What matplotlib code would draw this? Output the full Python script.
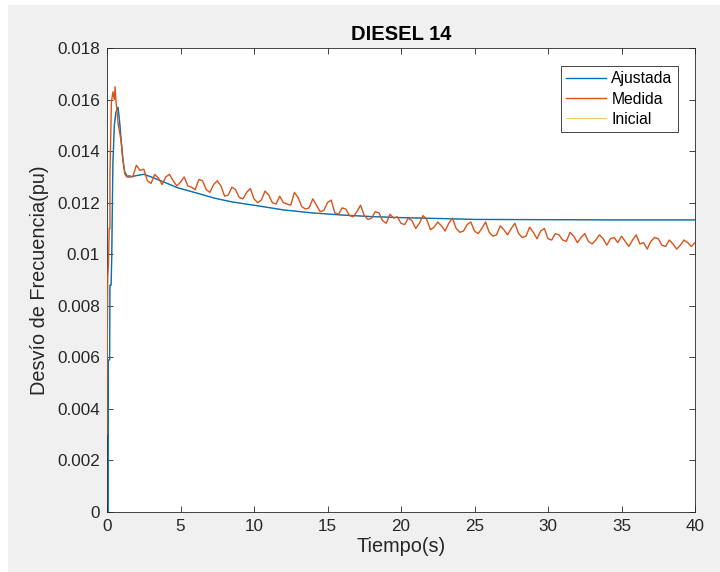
import numpy as np
import matplotlib
matplotlib.use("Agg")
import matplotlib.pyplot as plt
from matplotlib.patches import Rectangle

# Ajustada (curva ajustada)
t_aj = [0, 0.08, 0.09, 0.18, 0.2, 0.28, 0.32, 0.4, 0.5, 0.6, 0.75, 0.85, 0.95, 1.05, 1.2,
        1.4, 1.6, 2.0, 2.5, 3.0, 3.7, 4.8, 6.0, 7.35, 8.5, 10, 12, 14, 16, 18, 20, 23, 25, 30, 35, 40]
y_aj = [0, 0, 0.0059, 0.0059, 0.0088, 0.0088, 0.0098, 0.0135, 0.0150, 0.0155, 0.0157, 0.0152,
        0.0145, 0.0138, 0.0132, 0.0130, 0.01300, 0.01305, 0.01310, 0.01300, 0.01284, 0.01258,
        0.01239, 0.01217, 0.01203, 0.01190, 0.01172, 0.01160, 0.01152, 0.01146, 0.01142,
        0.01138, 0.01135, 0.01134, 0.01133, 0.01133]

# Medida: subida inicial
t_med_ini = [0, 0.0, 0.05, 0.1, 0.15, 0.2, 0.2, 0.3, 0.4, 0.5, 0.55, 0.6, 0.77, 0.9, 1.0, 1.1, 1.22, 1.35]
y_med_ini = [0.0030, 0.0047, 0.0091, 0.0096, 0.0110, 0.0110, 0.0131, 0.0159, 0.0163, 0.0160,
             0.0165, 0.0160, 0.0150, 0.0146, 0.0142, 0.0136, 0.0131, 0.0130]

# Medida: resto (cada 0.25 s desde 1.5 s)
y_med = [
    0.01305, 0.01300, 0.01345, 0.01325, 0.01330, 0.01285, 0.01275, 0.01310, 0.01295, 0.01270,
    0.01300, 0.01310, 0.01285, 0.01265, 0.01280, 0.01300, 0.01265, 0.01260, 0.01250, 0.01290,
    0.01285, 0.01250, 0.01240, 0.01270, 0.01285, 0.01265, 0.01225, 0.01230, 0.01260, 0.01250,
    0.01220, 0.01215, 0.01240, 0.01255, 0.01215, 0.01200, 0.01210, 0.01245, 0.01230, 0.01200,
    0.01195, 0.01225, 0.01200, 0.01195, 0.01190, 0.01240, 0.01220, 0.01185, 0.01175, 0.01180,
    0.01215, 0.01190, 0.01165, 0.01170, 0.01200, 0.01210, 0.01160, 0.01155, 0.01180, 0.01175,
    0.01150, 0.01145, 0.01165, 0.01190, 0.01150, 0.01135, 0.01140, 0.01165, 0.01160, 0.01130,
    0.01120, 0.01155, 0.01140, 0.01145, 0.01120, 0.01115, 0.01140, 0.01130, 0.01100, 0.01120,
    0.01150, 0.01135, 0.01095, 0.01105, 0.01125, 0.01110, 0.01090, 0.01120, 0.01140, 0.01100,
    0.01085, 0.01090, 0.01115, 0.01125, 0.01090, 0.01080, 0.01100, 0.01125, 0.01085, 0.01070,
    0.01075, 0.01110, 0.01095, 0.01075, 0.01100, 0.01120, 0.01080, 0.01065, 0.01070, 0.01105,
    0.01085, 0.01060, 0.01090, 0.01100, 0.01060, 0.01055, 0.01080, 0.01075, 0.01055, 0.01050,
    0.01085, 0.01070, 0.01045, 0.01065, 0.01080, 0.01050, 0.01040, 0.01055, 0.01075, 0.01060,
    0.01035, 0.01060, 0.01065, 0.01045, 0.01070, 0.01050, 0.01030, 0.01055, 0.01075, 0.01040,
    0.01045, 0.01020, 0.01050, 0.01065, 0.01060, 0.01035, 0.01030, 0.01055, 0.01040, 0.01020,
    0.01035, 0.01055, 0.01045, 0.01030, 0.01045,
]
t_med = list(t_med_ini) + list(1.5 + 0.25 * np.arange(len(y_med)))
y_med_all = list(y_med_ini) + y_med

xticks = [0, 5, 10, 15, 20, 25, 30, 35, 40]
yticks = [0, 0.002, 0.004, 0.006, 0.008, 0.01, 0.012, 0.014, 0.016, 0.018]
ytick_labels = ['0', '0.002', '0.004', '0.006', '0.008', '0.01', '0.012', '0.014', '0.016', '0.018']

plt.rcParams['font.family'] = ['Liberation Sans', 'DejaVu Sans']

fig = plt.figure(figsize=(7.2, 5.72), dpi=100, facecolor='#f0f0f0')
# bordes blancos de la captura
fig.patches.append(Rectangle((0, 1 - 5 / 572), 1, 5 / 572, transform=fig.transFigure,
                             facecolor='white', edgecolor='none', zorder=0))
fig.patches.append(Rectangle((0, 0), 8 / 720, 1, transform=fig.transFigure,
                             facecolor='white', edgecolor='none', zorder=0))

ax = fig.add_axes([107 / 720, 60 / 572, 588 / 720, 464 / 572])

l_ini, = ax.plot(t_aj, y_aj, color='#EDB120', lw=0.5, zorder=1)
l_aj, = ax.plot(t_aj, y_aj, color='#0072BD', lw=1.0, zorder=2)
l_med, = ax.plot(t_med, y_med_all, color='#D95319', lw=1.0, zorder=3)

ax.set_xlim(0, 40)
ax.set_ylim(0, 0.018)
ax.set_xticks(xticks)
ax.set_xticklabels([str(x) for x in xticks])
ax.set_yticks(yticks)
ax.set_yticklabels(ytick_labels)
ax.tick_params(direction='in', top=True, right=True, length=4.3, width=0.6,
               colors='#262626', labelsize=12.3, pad=5)
for s in ax.spines.values():
    s.set_color('#262626')
    s.set_linewidth(0.6)

ax.set_xlabel('Tiempo(s)', fontsize=14.3, color='#262626', labelpad=2)
ax.set_ylabel('Desvío de Frecuencia(pu)', fontsize=14.3, color='#262626', labelpad=6)
ax.set_title('DIESEL 14', fontsize=14.5, fontweight='bold', color='black', pad=6)

leg = ax.legend([l_aj, l_med, l_ini], ['Ajustada', 'Medida', 'Inicial'],
                loc='upper right', bbox_to_anchor=((678 - 107) / 588, (512 - 66) / 464),
                borderaxespad=0, fontsize=11.3,
                fancybox=False, framealpha=1, edgecolor='#262626',
                handlelength=2.55, handletextpad=0.32, borderpad=0.35, labelspacing=0.32)
leg.get_frame().set_linewidth(0.6)

fig.savefig('out.png', dpi=100, facecolor=fig.get_facecolor())
